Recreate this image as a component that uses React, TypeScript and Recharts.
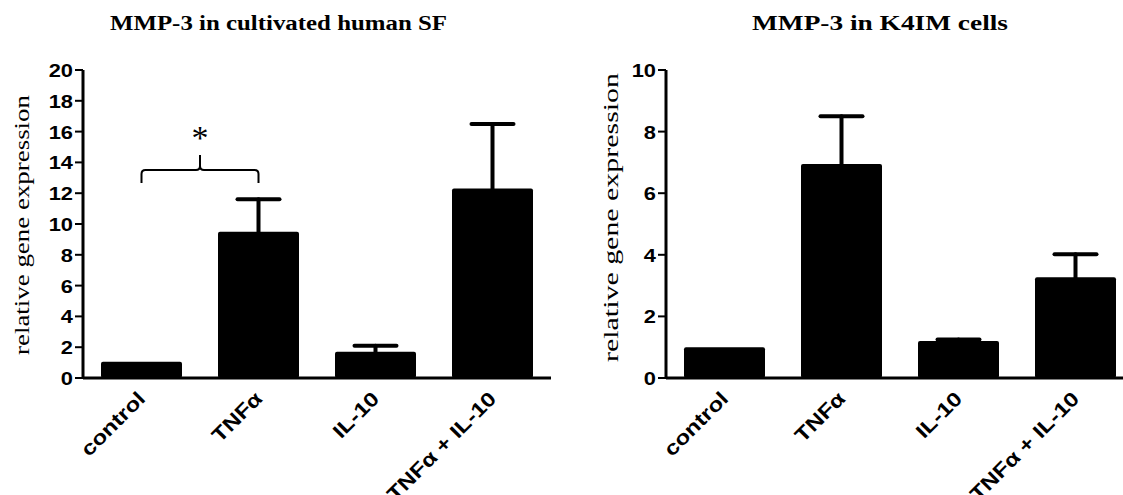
import React from "react";
import { BarChart, Bar, XAxis, YAxis, ErrorBar, ReferenceLine } from "recharts";

// values
const categories = ["control", "TNFα", "IL-10", "TNFα + IL-10"];
const sfMeans = [1.05, 9.5, 1.7, 12.3];
const sfErrors = [0, 2.1, 0.4, 4.2];
const k4Means = [1.0, 6.95, 1.2, 3.27];
const k4Errors = [0, 1.55, 0.05, 0.75];
const sfTicks = [0, 2, 4, 6, 8, 10, 12, 14, 16, 18, 20];
const k4Ticks = [0, 2, 4, 6, 8, 10];
const sigPair = ["control", "TNFα"];
const sigLevel = 13.5;

const sfData = categories.map((name, i) => ({ name, mean: sfMeans[i], err: sfErrors[i] }));
const k4Data = categories.map((name, i) => ({ name, mean: k4Means[i], err: k4Errors[i] }));

const SANS = "'Liberation Sans', Arial, sans-serif";
const SERIF = "'Liberation Serif', 'Times New Roman', serif";

const YTick = ({ x, y, payload }: any) => (
  <text
    transform={`translate(${x},${y + 7}) scale(1.15,1)`}
    textAnchor="end"
    fontFamily={SANS}
    fontWeight="bold"
    fontSize={19}
    fill="#000"
  >
    {payload.value}
  </text>
);

const XTick = ({ x, y, payload }: any) => (
  <text
    transform={`translate(${x + 5},${y + 22}) rotate(-45) scale(1.2,1)`}
    textAnchor="end"
    fontFamily={SANS}
    fontWeight="bold"
    fontSize={20}
    fill="#000"
  >
    {payload.value}
  </text>
);

// curly brace + asterisk between control and TNFα
const Brace = (props: any) => {
  const { x1, y1, x2 } = props;
  const xm = (x1 + x2) / 2;
  const d =
    `M${x1},${y1 + 13} L${x1},${y1 + 4} Q${x1},${y1} ${x1 + 4},${y1} L${xm - 4},${y1} ` +
    `Q${xm},${y1} ${xm},${y1 - 4} L${xm},${y1 - 15} M${xm},${y1 - 4} Q${xm},${y1} ${xm + 4},${y1} ` +
    `L${x2 - 4},${y1} Q${x2},${y1} ${x2},${y1 + 4} L${x2},${y1 + 13}`;
  return (
    <g>
      <path d={d} fill="none" stroke="#000" strokeWidth={2} />
      <text x={xm} y={y1 - 21} textAnchor="middle" fontFamily={SERIF} fontSize={34} fill="#000">
        *
      </text>
    </g>
  );
};

type PanelProps = {
  data: { name: string; mean: number; err: number }[];
  ticks: number[];
  max: number;
  width: number;
  axisWidth: number;
  right: number;
  children?: React.ReactNode;
};

const Panel = ({ data, ticks, max, width, axisWidth, right, children }: PanelProps) => (
  <BarChart width={width} height={495} data={data} margin={{ top: 70, right, bottom: 0, left: 0 }}>
    <XAxis
      dataKey="name"
      height={117}
      tickLine={false}
      tickSize={0}
      tickMargin={0}
      axisLine={{ stroke: "#000", strokeWidth: 3 }}
      tick={<XTick />}
      interval={0}
    />
    <YAxis
      width={axisWidth}
      domain={[0, max]}
      ticks={ticks}
      tickSize={8}
      tickMargin={2}
      tickLine={{ stroke: "#000", strokeWidth: 2 }}
      axisLine={{ stroke: "#000", strokeWidth: 3 }}
      tick={<YTick />}
      interval={0}
    />
    <Bar dataKey="mean" fill="#000" barSize={81} radius={2} isAnimationActive={false}>
      <ErrorBar
        dataKey="err"
        direction="y"
        width={21}
        strokeWidth={4}
        stroke="#000"
        strokeLinecap="round"
        isAnimationActive={false}
      />
    </Bar>
    {children}
  </BarChart>
);

const titleStyle = { fontFamily: SERIF, fontWeight: "bold" as const, fontSize: 20, fill: "#000" };
const axisLabelStyle = { fontFamily: SERIF, fontSize: 22, fill: "#000" };

const App = () => (
  <div style={{ position: "fixed", left: 0, top: 0, width: 1123, height: 495, overflow: "hidden", background: "#fff" }}>
    <div style={{ position: "absolute", left: 0, top: 0 }}>
      <Panel data={sfData} ticks={sfTicks} max={20} width={560} axisWidth={83} right={9}>
        <ReferenceLine
          segment={[
            { x: sigPair[0], y: sigLevel },
            { x: sigPair[1], y: sigLevel },
          ]}
          shape={Brace}
        />
      </Panel>
    </div>
    <div style={{ position: "absolute", left: 560, top: 0 }}>
      <Panel data={k4Data} ticks={k4Ticks} max={10} width={580} axisWidth={106} right={6} />
    </div>
    <svg width={1123} height={495} style={{ position: "absolute", left: 0, top: 0, pointerEvents: "none" }}>
      <text x={110} y={30} textLength={337} lengthAdjust="spacingAndGlyphs" {...titleStyle}>
        MMP-3 in cultivated human SF
      </text>
      <text x={752} y={30} textLength={256} lengthAdjust="spacingAndGlyphs" {...titleStyle}>
        MMP-3 in K4IM cells
      </text>
      <g transform="translate(29,355) rotate(-90)">
        <text x={0} y={0} textLength={260} lengthAdjust="spacingAndGlyphs" {...axisLabelStyle}>
          relative gene expression
        </text>
      </g>
      <g transform="translate(618,362) rotate(-90)">
        <text x={0} y={0} textLength={289} lengthAdjust="spacingAndGlyphs" {...axisLabelStyle}>
          relative gene expression
        </text>
      </g>
    </svg>
  </div>
);

export default App;
